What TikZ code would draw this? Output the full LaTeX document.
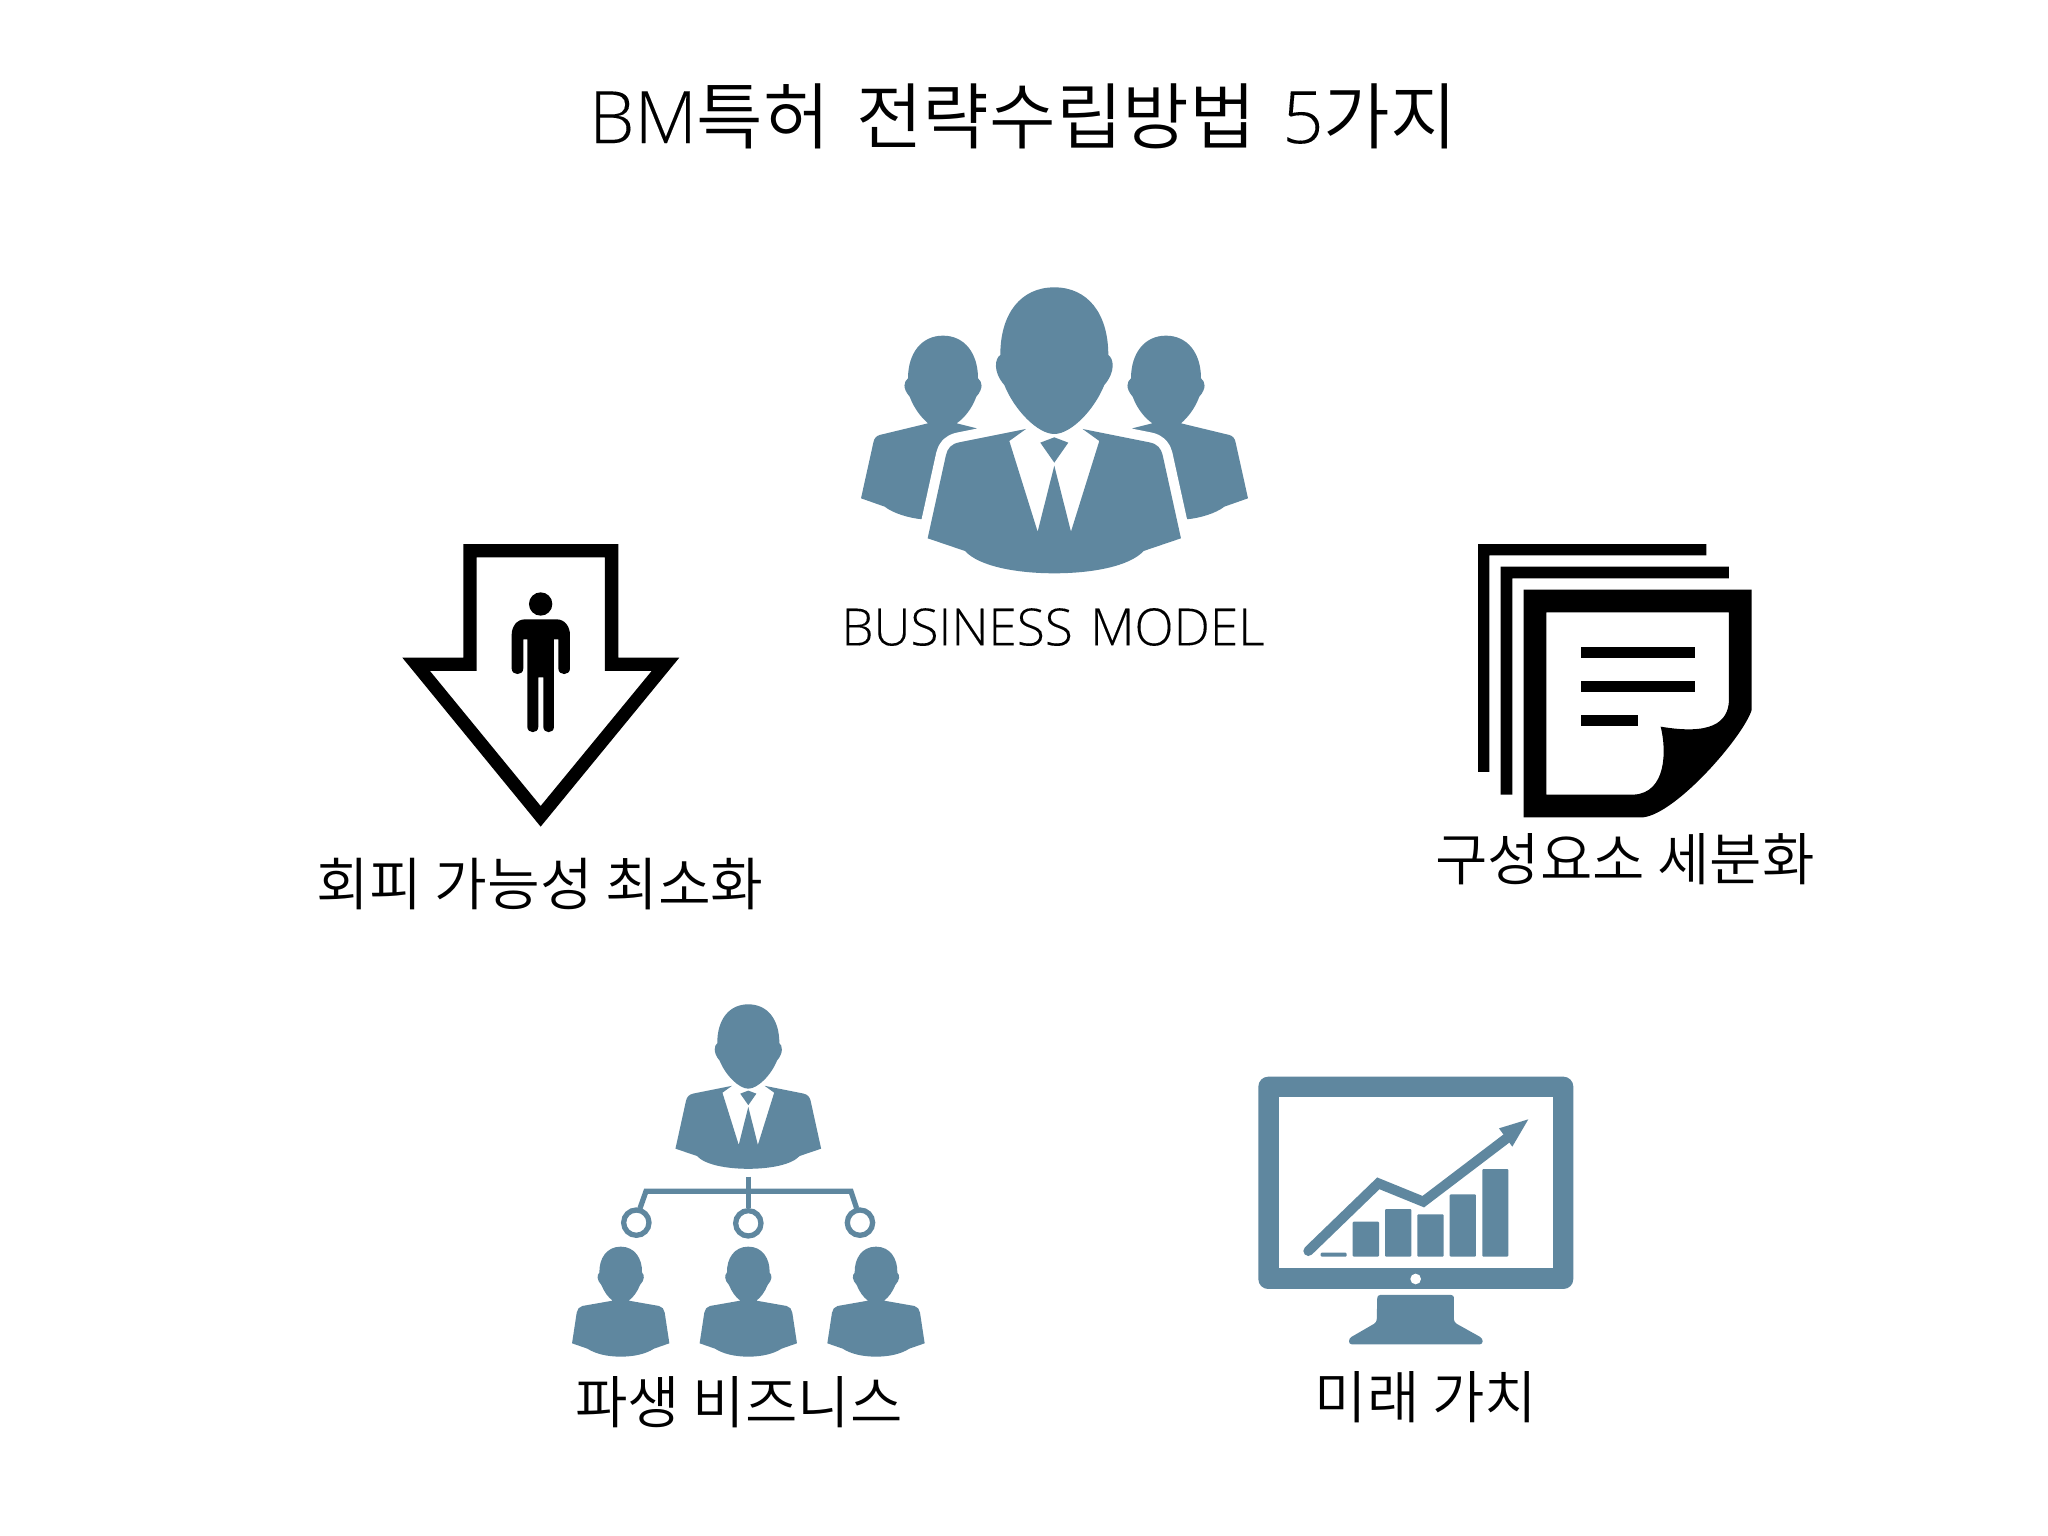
\documentclass[tikz,border=0pt]{standalone}
\usepackage{fontspec}
\setmainfont[FakeBold=0.12]{Open Sans Light}
\newfontfamily\kr{Noto Sans CJK KR DemiLight}
\definecolor{steel}{HTML}{5F879F}
\newcommand{\suitbody}{(-85,507) -- (-285,547) .. controls (-310,552) and (-320,565) .. (-325,585) -- (-380,835) -- (-268,873) .. controls (-225,920) and (-110,940) .. (0,940) .. controls (110,940) and (225,920) .. (268,873) -- (380,835) -- (325,585) .. controls (320,565) and (310,552) .. (285,547) -- (85,507) -- (135,543) -- (50,815) -- (0,617) -- (-50,815) -- (-135,543) -- cycle}
\newcommand{\suitperson}[3]{%
  \begin{scope}[shift={(#1,#2)},scale=#3]
    \fill[steel] (0,82) .. controls (-100,82) and (-162,160) .. (-162,285) .. controls (-178,295) and (-185,335) .. (-150,375) .. controls (-120,450) and (-50,522) .. (0,522) .. controls (50,522) and (120,450) .. (150,375) .. controls (185,335) and (178,295) .. (162,285) .. controls (162,160) and (100,82) .. (0,82) -- cycle;
    \fill[steel] \suitbody;
    \fill[steel] (-42,548) -- (0,532) -- (42,548) -- (0,608) -- cycle;
  \end{scope}}
\newcommand{\sideperson}[2]{%
  \begin{scope}[shift={(#1,260)},xscale=#2,yscale=0.3333]
    \fill[steel] (0,227) .. controls (-65,227) and (-105,280) .. (-105,355) .. controls (-118,365) and (-122,385) .. (-100,410) .. controls (-85,450) and (-62,475) .. (-45,490) -- (-190,525) .. controls (-200,528) and (-207,535) .. (-209,548) -- (-246,715) -- (-175,740) .. controls (-150,760) and (-100,775) .. (-61,778) -- (-10,778) -- (50,600) -- (101,505) -- (41,490) .. controls (62,475) and (85,450) .. (100,410) .. controls (122,385) and (118,365) .. (105,355) .. controls (105,280) and (65,227) .. (0,227) -- cycle;
  \end{scope}}
\newcommand{\plainperson}[1]{%
  \begin{scope}[shift={(#1,990)},scale=0.3333]
    \fill[steel] (0,770) .. controls (-42,770) and (-65,805) .. (-64,848) .. controls (-72,855) and (-72,870) .. (-58,885) .. controls (-50,905) and (-38,922) .. (-24,932) -- (-115,948) .. controls (-125,950) and (-130,958) .. (-132,968) -- (-146,1060) -- (-100,1076) .. controls (-75,1092) and (-40,1100) .. (0,1100) .. controls (40,1100) and (75,1092) .. (100,1076) -- (146,1060) -- (132,968) .. controls (130,958) and (125,950) .. (115,948) -- (24,932) .. controls (38,922) and (50,905) .. (58,885) .. controls (72,870) and (72,855) .. (64,848) .. controls (65,805) and (42,770) .. (0,770) -- cycle;
  \end{scope}}
\begin{document}
\begin{tikzpicture}[x=0.01cm,y=-0.01cm,
  lbl/.style={inner sep=0pt,anchor=center,text=black}]
\useasboundingbox (0,0) rectangle (2048,1536);
\fill[white] (0,0) rectangle (2048,1536);

% texts
\node[lbl] (title) at (1023,116) {\fontsize{20.6}{24}\selectfont BM{\kr 특허} \hspace{0.1em}{\kr 전략수립방법} \hspace{0.1em}5{\kr 가지}};
\node[lbl] (bmlabel) at (1053,627) {\fontsize{14.6}{17}\selectfont BUSINESS\hspace{0.08em} MODEL};
\node[lbl] (l1) at (540,884) {\fontsize{16.3}{18}\selectfont\kr 회피 가능성 최소화};
\node[lbl] (l2) at (1625,859) {\fontsize{16.2}{18}\selectfont\kr 구성요소 세분화};
\node[lbl] (l3) at (739,1402) {\fontsize{16.2}{18}\selectfont\kr 파생 비즈니스};
\node[lbl] (l4) at (1426,1397) {\fontsize{16.2}{18}\selectfont\kr 미래 가치};

% team icon
\sideperson{943}{0.3333}
\sideperson{1166}{-0.3333}
\begin{scope}[shift={(1054.3,260)},scale=0.3333]
  \draw[white,line width=5.7pt,line join=round] \suitbody;
\end{scope}
\suitperson{1054.3}{260}{0.3333}

% arrow icon
\begin{scope}[shift={(390,530)},scale=0.3333]
  \fill[black,even odd rule] (220,42) -- (685,42) -- (685,383) -- (868,383) -- (452,890) -- (37,383) -- (220,383) -- cycle
    (260,82) -- (645,82) -- (645,423) -- (785,423) -- (452,828) -- (120,423) -- (260,423) -- cycle;
  \fill[black] (452,222) circle[radius=35];
  \fill[black] (405,268) -- (500,268) .. controls (525,268) and (540,290) .. (540,315) -- (540,415) .. controls (540,438) and (505,438) .. (505,415) -- (505,328) -- (492,328) -- (492,590) .. controls (492,612) and (460,612) .. (460,590) -- (460,442) -- (445,442) -- (445,590) .. controls (445,612) and (412,612) .. (412,590) -- (412,328) -- (400,328) -- (400,415) .. controls (400,438) and (365,438) .. (365,415) -- (365,315) .. controls (365,290) and (380,268) .. (405,268) -- cycle;
\end{scope}

% document icon
\begin{scope}[shift={(1470,530)},scale=0.3333]
  \fill[black] (24,42) -- (709,42) -- (709,76) -- (58,76) -- (58,726) -- (24,726) -- cycle;
  \fill[black] (92,110) -- (777,110) -- (777,145) -- (127,145) -- (127,794) -- (92,794) -- cycle;
  \fill[black,even odd rule] (161,179) -- (845,179) -- (845,540) .. controls (820,620) and (620,850) .. (520,862) -- (161,862) -- cycle
    (229,247) -- (777,247) -- (777,510) .. controls (775,580) and (720,615) .. (572,590) .. controls (590,660) and (590,790) .. (490,794) -- (229,794) -- cycle;
  \fill[black] (332,350) rectangle (674,384);
  \fill[black] (332,453) rectangle (674,487);
  \fill[black] (332,555) rectangle (503,589);
\end{scope}

% organisation icon
\suitperson{748.3}{988.6}{0.1917}
\begin{scope}[shift={(560,990)},scale=0.3333]
  \draw[steel,line width=1.5pt] (240,655) -- (258,604) -- (873,604) -- (890,655);
  \draw[steel,line width=1.6pt] (565,560) -- (565,655);
  \draw[steel,fill=white,line width=1.5pt] (229,698) circle[radius=38];
  \draw[steel,fill=white,line width=1.5pt] (565,700) circle[radius=38];
  \draw[steel,fill=white,line width=1.5pt] (900,698) circle[radius=38];
\end{scope}
\plainperson{620.7}
\plainperson{748.3}
\plainperson{876}

% monitor icon
\begin{scope}[shift={(1250,1070)},scale=0.3333]
  \fill[steel,rounded corners=2.8pt] (25,20) rectangle (970,657);
  \fill[white] (87,81) rectangle (910,595);
  \fill[white] (497,627) circle[radius=16];
  \fill[steel,rounded corners=0.8pt] (382,675) -- (612,675) -- (612,757) -- (698,805) -- (698,823) -- (297,823) -- (297,805) -- (380,757) -- cycle;
  \fill[steel,rounded corners=0.3pt] (212,548) rectangle (290,560);
  \fill[steel,rounded corners=0.3pt] (308,455) rectangle (387,560);
  \fill[steel,rounded corners=0.3pt] (405,417) rectangle (484,560);
  \fill[steel,rounded corners=0.3pt] (502,433) rectangle (581,560);
  \fill[steel,rounded corners=0.3pt] (599,373) rectangle (678,560);
  \fill[steel,rounded corners=0.3pt] (697,297) rectangle (775,560);
  \draw[steel,line width=2.85pt,line cap=round,line join=miter] (175,543) -- (385,340) -- (520,395) -- (770,205);
  \fill[steel] (835,148) -- (747,175) -- (787,230) -- cycle;
\end{scope}
\end{tikzpicture}
\end{document}
